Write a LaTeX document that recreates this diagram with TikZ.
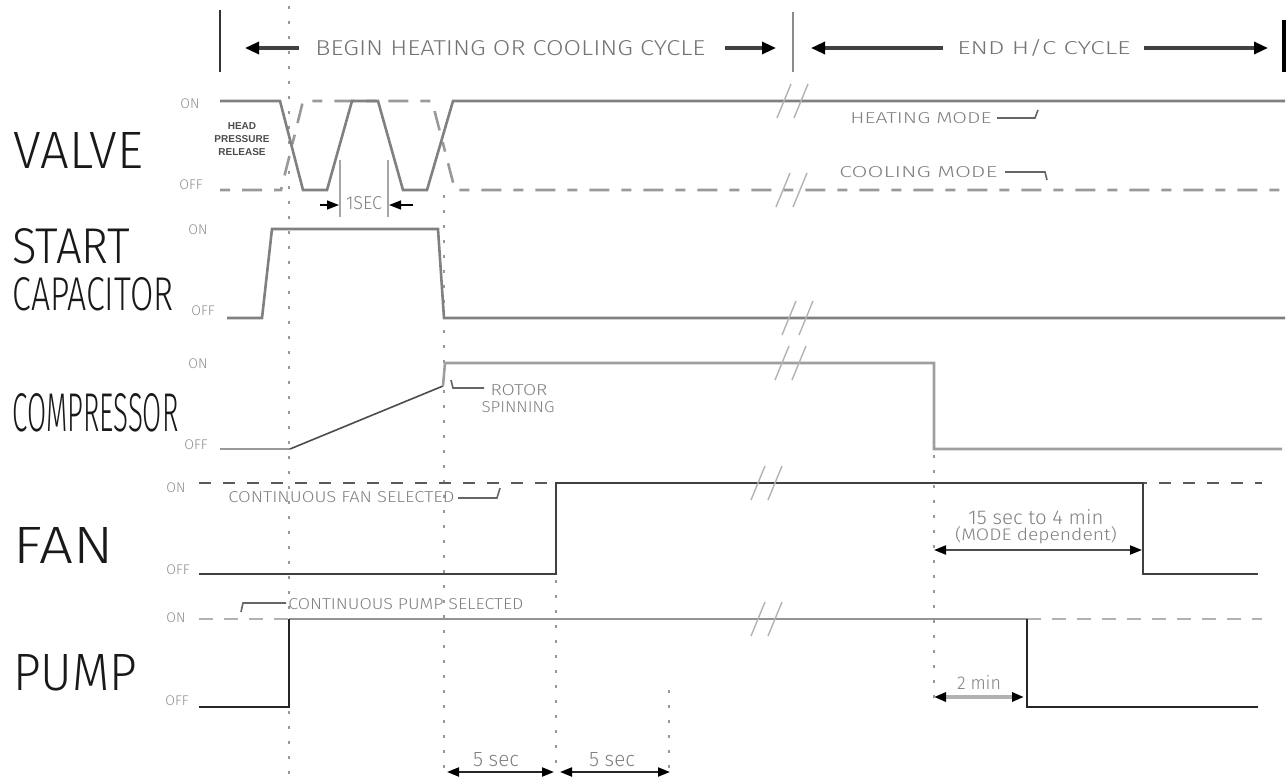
\documentclass[tikz,border=0pt]{standalone}
\usepackage{fontspec}
\usepackage{graphicx}
\usetikzlibrary{arrows.meta}
\setmainfont{Liberation Sans}
\IfFontExistsTF{Fira Sans Light}{\newfontfamily\thinf{Fira Sans Light}}{\newfontfamily\thinf{Liberation Sans}}
\newcommand\fit[3]{\resizebox{#1}{#2}{\thinf #3}}
\newcommand\brkmark[2]{%
  \draw[brk] (#1-7,#2+17) -- (#1+7,#2-17);
  \draw[brk] (#1+10,#2+17) -- (#1+24,#2-17);}
\begin{document}
\begin{tikzpicture}[x=0.5pt,y=-0.5pt,
  tr/.style={line width=1.3pt, line join=miter, line cap=butt},
  dotv/.style={draw=black!40, line width=1pt, dash pattern=on 1.5pt off 6pt},
  brk/.style={draw=black!30, line width=0.7pt},
  tipA/.style={-{Triangle[length=6pt,width=4.5pt,color=black]}, line width=0.8pt},
  dimA/.style={{Triangle[length=6pt,width=4.5pt,color=black]}-{Triangle[length=6pt,width=4.5pt,color=black]}, line width=1pt},
  harrow/.style={-{Triangle[length=7pt,width=6pt,color=black]}, line width=1.6pt, draw=black!75},
  big/.style={inner sep=0, anchor=base west, text=black!90},
  lvl/.style={inner sep=0, font=\thinf\fontsize{7}{8}\selectfont, text=black!45, anchor=west},
  note/.style={inner sep=0, text=black!50},
  hdr/.style={inner sep=0, text=black!55, anchor=west},
  lead/.style={draw=black!60, line width=0.8pt},
  ]
\useasboundingbox (0,0) rectangle (1287,782);

% ---------- dotted guide lines ----------
\draw[dotv] (289,6) -- (289,780);
\draw[dotv] (444,195) -- (444,778);
\draw[dotv] (556,580) -- (556,775);
\draw[dotv] (669,690) -- (669,772);
\draw[dotv] (934,455) -- (934,700);

% ---------- header ----------
\draw[draw=black!80, line width=0.9pt] (220,10) -- (220,72);
\draw[draw=black!45, line width=1pt] (793,12) -- (793,72);
\draw[draw=black, line width=1.6pt] (1284,20) -- (1284,72);
\node[hdr] (begin) at (315,48) {\fit{195pt}{7.5pt}{BEGIN HEATING OR COOLING CYCLE}};
\node[hdr] (endc) at (957,48) {\fit{86.5pt}{7.5pt}{END H/C CYCLE}};
\coordinate (b1) at (299,48); \coordinate (b1e) at (245,48);
\coordinate (b2) at (725,48); \coordinate (b2e) at (776,48);
\coordinate (e1) at (943,48); \coordinate (e1e) at (811,48);
\coordinate (e2) at (1144,48); \coordinate (e2e) at (1268,48);
\draw[harrow] (b1) -- (b1e);
\draw[harrow] (b2) -- (b2e);
\draw[harrow] (e1) -- (e1e);
\draw[harrow] (e2) -- (e2e);

% ---------- big labels ----------
\node[big] (valve) at (13,168) {\fit{65pt}{18pt}{VALVE}};
\node[big] (start) at (12,263) {\fit{59pt}{17.5pt}{START}};
\node[big] (capac) at (12,310) {\fit{80.5pt}{16.5pt}{CAPACITOR}};
\node[big] (compr) at (12,431) {\fit{83pt}{19pt}{COMPRESSOR}};
\node[big] (fan) at (13,563) {\fit{50pt}{18pt}{FAN}};
\node[big] (pump) at (13,690) {\fit{62pt}{18pt}{PUMP}};

% ---------- ON / OFF ----------
\node[lvl] (von) at (180,104) {ON};
\node[lvl] (voff) at (179,185) {OFF};
\node[lvl] (son) at (188,230) {ON};
\node[lvl] (soff) at (191,311) {OFF};
\node[lvl] (con) at (188,364) {ON};
\node[lvl] (coff) at (184,445) {OFF};
\node[lvl] (fon) at (166,488) {ON};
\node[lvl] (foff) at (166,570) {OFF};
\node[lvl] (pon) at (166,618) {ON};
\node[lvl] (poff) at (165,701) {OFF};

% ---------- VALVE ----------
\draw[tr, draw=black!40, dash pattern=on 5pt off 6pt on 10pt off 6pt]
  (220,190) -- (281,190) -- (303,101) -- (432,101) -- (455,190) -- (1285,190);
\draw[tr, draw=black!50]
  (220,101) -- (280,101) -- (303,190) -- (327,190) -- (352,101) -- (378,101)
  -- (403,190) -- (427,190) -- (453,101) -- (1285,101);
\node[inner sep=0, align=center, text=black!70, font=\bfseries\fontsize{5}{6.5}\selectfont] (hpr) at (242,139) {HEAD\\PRESSURE\\RELEASE};
\draw[draw=black!35, line width=0.6pt] (340,160) -- (340,217);
\draw[draw=black!35, line width=0.6pt] (388,160) -- (388,217);
\node[note] (onesec) at (364,203) {\fit{18pt}{6.5pt}{1SEC}};
\coordinate (s1a) at (320,205); \coordinate (s1b) at (339,205);
\coordinate (s2a) at (413,205); \coordinate (s2b) at (389,205);
\draw[tipA] (s1a) -- (s1b);
\draw[tipA] (s2a) -- (s2b);
\node[note, anchor=west] (heat) at (850,118) {\fit{70.5pt}{5.5pt}{HEATING MODE}};
\draw[lead] (997,118) -- (1035,118) -- (1038,110);
\node[note, anchor=west] (cool) at (839,172) {\fit{79pt}{5.5pt}{COOLING MODE}};
\draw[lead] (1005,172) -- (1045,172) -- (1047,180);

% ---------- START CAPACITOR ----------
\draw[tr, draw=black!50] (227,318) -- (262,318) -- (272,229) -- (438,229) -- (444,318) -- (1285,318);

% ---------- COMPRESSOR ----------
\draw[tr, draw=black!40] (220,449) -- (290,449);
\draw[draw=black!70, line width=0.8pt] (290,449) -- (443,386);
\draw[tr, draw=black!38] (443,386) -- (445,363) -- (934,363) -- (934,449) -- (1282,449);
\draw[lead] (451,380) -- (453,388) -- (484,388);
\node[note] (rotor) at (519,390) {\fit{28.5pt}{5.5pt}{ROTOR}};
\node[note] (spin) at (518,407) {\fit{36.5pt}{5.5pt}{SPINNING}};

% ---------- FAN ----------
\draw[tr, draw=black!65, dash pattern=on 6pt off 6pt] (199,483) -- (1262,483);
\draw[tr, draw=black!75] (199,574) -- (556,574) -- (556,483) -- (1143,483) -- (1143,574) -- (1258,574);
\node[note, anchor=west] (cfan) at (228,497) {\fit{113pt}{5.5pt}{CONTINUOUS FAN SELECTED}};
\draw[lead] (458,498) -- (497,498) -- (500,488);
\node[note] (fdim1) at (1036,517) {\fit{67.5pt}{7.5pt}{15 sec to 4 min}};
\node[note] (fdim2) at (1036,535) {\fit{81pt}{7pt}{(MODE dependent)}};
\coordinate (fd1) at (934,550); \coordinate (fd2) at (1142,550);
\draw[dimA, draw=black!70] (fd1) -- (fd2);

% ---------- PUMP ----------
\draw[tr, draw=black!30, dash pattern=on 7pt off 5.5pt] (199,619) -- (289,619);
\draw[tr, draw=black!30, dash pattern=on 7pt off 5.5pt] (1027,619) -- (1262,619);
\draw[tr, draw=black!42] (289,619) -- (1027,619);
\draw[tr, draw=black!85] (199,707) -- (289,707) -- (289,619);
\draw[tr, draw=black!85] (1027,619) -- (1027,707) -- (1258,707);
\node[note, anchor=west] (cpump) at (288,604) {\fit{117.5pt}{5.5pt}{CONTINUOUS PUMP SELECTED}};
\draw[lead] (241,612) -- (243,603) -- (286,603);
\node[note] (twomin) at (979,682) {\fit{22pt}{7pt}{2 min}};
\coordinate (pd1) at (934,697); \coordinate (pd2) at (1024,697);
\draw[dimA, draw=black!30, line width=1.8pt] (pd1) -- (pd2);

% ---------- bottom 5 sec ----------
\node[note] (fs1) at (496,760) {\fit{23pt}{7pt}{5 sec}};
\node[note] (fs2) at (612,760) {\fit{23pt}{7pt}{5 sec}};
\coordinate (q1) at (447,772); \coordinate (q2) at (554,772);
\coordinate (q3) at (560,772); \coordinate (q4) at (670,772);
\draw[dimA, draw=black!85] (q1) -- (q2);
\draw[dimA, draw=black!85] (q3) -- (q4);

% ---------- break marks ----------
\brkmark{784}{101}
\brkmark{783}{190}
\brkmark{789}{318}
\brkmark{782}{363}
\brkmark{758}{483}
\brkmark{758}{619}
\end{tikzpicture}
\end{document}
